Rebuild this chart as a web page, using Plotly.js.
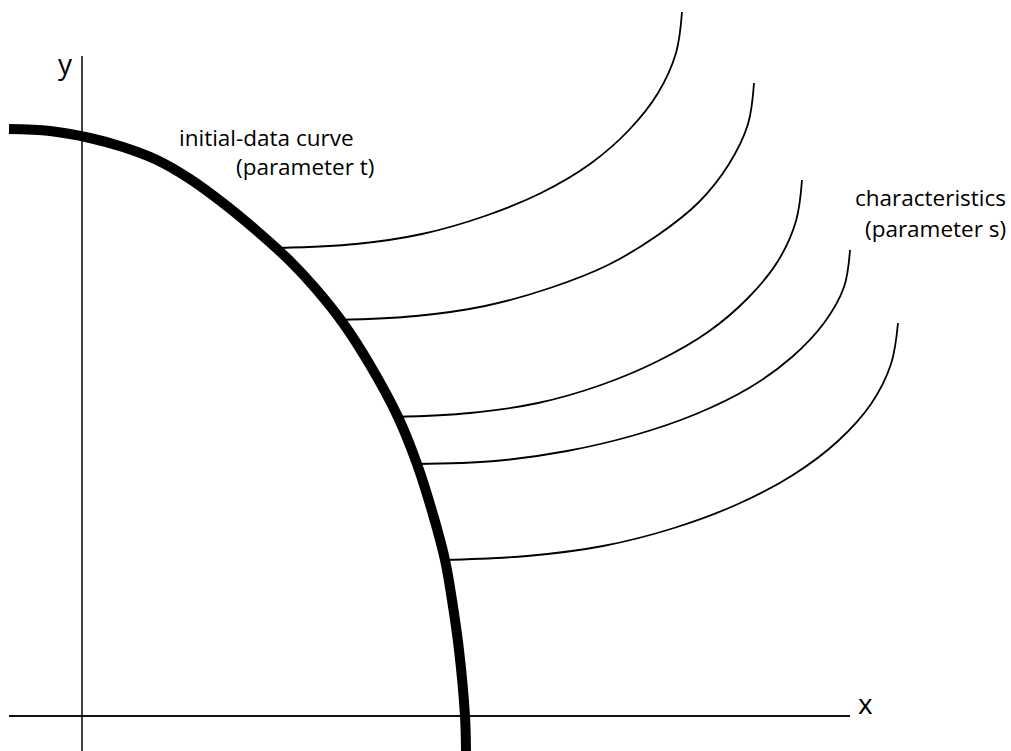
<!DOCTYPE html>
<html>
<head>
<meta charset="utf-8">
<script src="https://cdn.plot.ly/plotly-3.0.1.min.js"></script>
<style>html,body{margin:0;padding:0;background:#fff;}#chart{width:1011px;height:751px;}</style>
</head>
<body>
<div id="chart"></div>
<script>
// Coordinate axes (data units, origin at the axes' crossing)
const xAxisX = [-0.73, 7.68];
const xAxisY = [0, 0];
const yAxisX = [0, 0];
const yAxisY = [-0.35, 6.60];

// Initial-data curve (parameter t)
const initX = [-0.73, -0.32, 0.08, 0.41, 0.75, 1.08, 1.41, 1.75, 2.08, 2.34, 2.61, 2.88, 3.16, 3.35, 3.52, 3.63, 3.70, 3.77, 3.83, 3.84];
const initY = [5.87, 5.85, 5.78, 5.69, 5.56, 5.37, 5.13, 4.85, 4.55, 4.27, 3.93, 3.51, 2.99, 2.52, 1.98, 1.56, 1.16, 0.66, 0.00, -0.35];

// Characteristics (parameter s)
const char1X = [1.97, 2.74, 3.40, 4.03, 4.59, 5.08, 5.47, 5.76, 5.94, 6.00];
const char1Y = [4.68, 4.72, 4.82, 5.00, 5.23, 5.52, 5.86, 6.23, 6.63, 7.04];
const char2X = [2.56, 3.34, 4.03, 4.68, 5.26, 5.76, 6.17, 6.47, 6.66, 6.72];
const char2Y = [3.96, 4.00, 4.10, 4.28, 4.51, 4.81, 5.14, 5.52, 5.92, 6.33];
const char3X = [3.13, 3.88, 4.56, 5.19, 5.76, 6.26, 6.66, 6.96, 7.14, 7.20];
const char3Y = [2.99, 3.03, 3.13, 3.31, 3.55, 3.84, 4.18, 4.55, 4.95, 5.36];
const char4X = [3.33, 4.13, 4.85, 5.53, 6.14, 6.67, 7.10, 7.42, 7.62, 7.68];
const char4Y = [2.52, 2.55, 2.65, 2.81, 3.02, 3.28, 3.59, 3.93, 4.29, 4.66];
const char5X = [3.61, 4.45, 5.21, 5.92, 6.56, 7.11, 7.56, 7.89, 8.09, 8.16];
const char5Y = [1.56, 1.60, 1.70, 1.88, 2.12, 2.41, 2.75, 3.12, 3.52, 3.93];

const labelTexts = ["initial-data curve", "(parameter t)", "characteristics", "(parameter s)"];
const axisNames = ["x", "y"];

const thin = {color: "#000", width: 1.8, shape: "spline", smoothing: 1};
const traces = [
  {x: xAxisX, y: xAxisY, mode: "lines", line: {color: "#111", width: 2}},
  {x: yAxisX, y: yAxisY, mode: "lines", line: {color: "#111", width: 1.6}},
  {x: char1X, y: char1Y, mode: "lines", line: thin},
  {x: char2X, y: char2Y, mode: "lines", line: thin},
  {x: char3X, y: char3Y, mode: "lines", line: thin},
  {x: char4X, y: char4Y, mode: "lines", line: thin},
  {x: char5X, y: char5Y, mode: "lines", line: thin},
  {x: initX, y: initY, mode: "lines", line: {color: "#000", width: 10, shape: "spline", smoothing: 1}}
];

const font = {family: "Open Sans, Noto Sans, sans-serif", size: 22.5, color: "#000"};
const axisFont = {family: "Open Sans, Noto Sans, sans-serif", size: 28, color: "#000"};

const layout = {
  width: 1011, height: 751,
  margin: {l: 0, r: 0, t: 0, b: 0},
  paper_bgcolor: "#fff", plot_bgcolor: "#fff",
  showlegend: false,
  xaxis: {range: [-0.82, 9.29], visible: false, fixedrange: true},
  yaxis: {range: [-0.35, 7.16], visible: false, fixedrange: true},
  annotations: [
    {x: 0.95, y: 5.79, text: labelTexts[0], xanchor: "left", yanchor: "middle", showarrow: false, font: font},
    {x: 1.52, y: 5.50, text: labelTexts[1], xanchor: "left", yanchor: "middle", showarrow: false, font: font},
    {x: 9.26, y: 5.19, text: labelTexts[2], xanchor: "right", yanchor: "middle", showarrow: false, font: font},
    {x: 9.26, y: 4.88, text: labelTexts[3], xanchor: "right", yanchor: "middle", showarrow: false, font: font},
    {x: 7.83, y: 0.13, text: axisNames[0], xanchor: "center", yanchor: "middle", showarrow: false, font: axisFont},
    {x: -0.165, y: 6.53, text: axisNames[1], xanchor: "center", yanchor: "middle", showarrow: false, font: axisFont}
  ]
};

Plotly.newPlot("chart", traces, layout, {displayModeBar: false, staticPlot: true});
</script>
</body>
</html>
